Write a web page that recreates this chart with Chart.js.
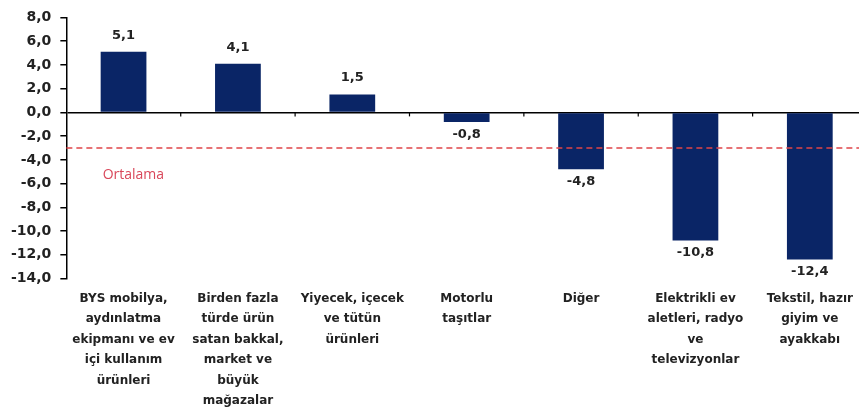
<!DOCTYPE html>
<html>
<head>
<meta charset="utf-8">
<script src="https://cdn.jsdelivr.net/npm/chart.js@4/dist/chart.umd.min.js"></script>
<style>
  html, body { margin: 0; padding: 0; background: #fff; overflow: hidden; }
  #wrap { position: relative; width: 870px; height: 417px; }
</style>
</head>
<body>
<div id="wrap"><canvas id="c"></canvas></div>
<script>
const categories = [
  ["BYS mobilya,", "aydınlatma", "ekipmanı ve ev", "içi kullanım", "ürünleri"],
  ["Birden fazla", "türde ürün", "satan bakkal,", "market ve", "büyük", "mağazalar"],
  ["Yiyecek, içecek", "ve tütün", "ürünleri"],
  ["Motorlu", "taşıtlar"],
  ["Diğer"],
  ["Elektrikli ev", "aletleri, radyo", "ve", "televizyonlar"],
  ["Tekstil, hazır", "giyim ve", "ayakkabı"]
];
const values = [5.1, 4.1, 1.5, -0.8, -4.8, -10.8, -12.4];
const averageValue = -3.0;
const averageLabel = "Ortalama";
const yMin = -14, yMax = 8, yStep = 2;

const fmt = v => v.toFixed(1).replace('.', ',');

const overlay = {
  id: 'overlay',
  afterDatasetsDraw(chart) {
    const ctx = chart.ctx;
    const x = chart.scales.x, y = chart.scales.y;
    const area = chart.chartArea;
    ctx.save();
    const y0 = y.getPixelForValue(0);
    ctx.strokeStyle = '#000';
    ctx.lineWidth = 1.2;
    for (let i = 1; i < categories.length; i++) {
      const bx = (x.getPixelForValue(i - 1) + x.getPixelForValue(i)) / 2;
      ctx.beginPath();
      ctx.moveTo(bx, y0);
      ctx.lineTo(bx, y0 + 4);
      ctx.stroke();
    }
    const ya = y.getPixelForValue(averageValue);
    ctx.strokeStyle = '#e04448';
    ctx.lineWidth = 1.6;
    ctx.setLineDash([6, 4]);
    ctx.beginPath();
    ctx.moveTo(area.left, ya);
    ctx.lineTo(area.right, ya);
    ctx.stroke();
    ctx.setLineDash([]);
    const meta0 = chart.getDatasetMeta(0).data[0];
    ctx.fillStyle = '#d9475a';
    ctx.font = '14px "Open Sans", sans-serif';
    ctx.textAlign = 'left';
    ctx.textBaseline = 'middle';
    ctx.fillText(averageLabel, meta0.x - meta0.width / 2 + 2, y.getPixelForValue(averageValue - 2.3));
    ctx.fillStyle = '#222';
    ctx.font = 'bold 13px "DejaVu Sans", sans-serif';
    ctx.textAlign = 'center';
    chart.getDatasetMeta(0).data.forEach((bar, i) => {
      const v = values[i];
      if (v >= 0) {
        ctx.textBaseline = 'bottom';
        ctx.fillText(fmt(v), bar.x, bar.y - 10);
      } else {
        ctx.textBaseline = 'top';
        ctx.fillText(fmt(v), bar.x, bar.y + 6);
      }
    });
    ctx.restore();
  }
};

new Chart(document.getElementById('c'), {
  type: 'bar',
  data: {
    labels: categories,
    datasets: [{
      data: values,
      backgroundColor: '#0a2566',
      borderWidth: 0,
      barPercentage: 0.4,
      categoryPercentage: 1.0
    }]
  },
  options: {
    responsive: true,
    maintainAspectRatio: false,
    animation: false,
    layout: { padding: { top: 13, right: 3, left: 2, bottom: 4 } },
    plugins: { legend: { display: false }, tooltip: { enabled: false } },
    scales: {
      x: {
        grid: { display: false },
        border: { display: false },
        ticks: {
          autoSkip: false,
          maxRotation: 0,
          minRotation: 0,
          color: '#222',
          padding: 2,
          font: { family: '"DejaVu Sans", sans-serif', weight: 'bold', size: 12, lineHeight: 1.7 }
        }
      },
      y: {
        min: yMin,
        max: yMax,
        border: { display: true, color: '#000', width: 1.5 },
        grid: {
          drawOnChartArea: true,
          drawTicks: true,
          color: ctx => (ctx.tick && ctx.tick.value === 0) ? '#000' : 'rgba(0,0,0,0)',
          lineWidth: 1.5,
          tickColor: '#000',
          tickLength: 6
        },
        ticks: {
          stepSize: yStep,
          color: '#222',
          padding: 9,
          callback: v => fmt(v),
          font: { family: '"DejaVu Sans", sans-serif', weight: 'bold', size: 14 }
        }
      }
    }
  },
  plugins: [overlay]
});
</script>
</body>
</html>
